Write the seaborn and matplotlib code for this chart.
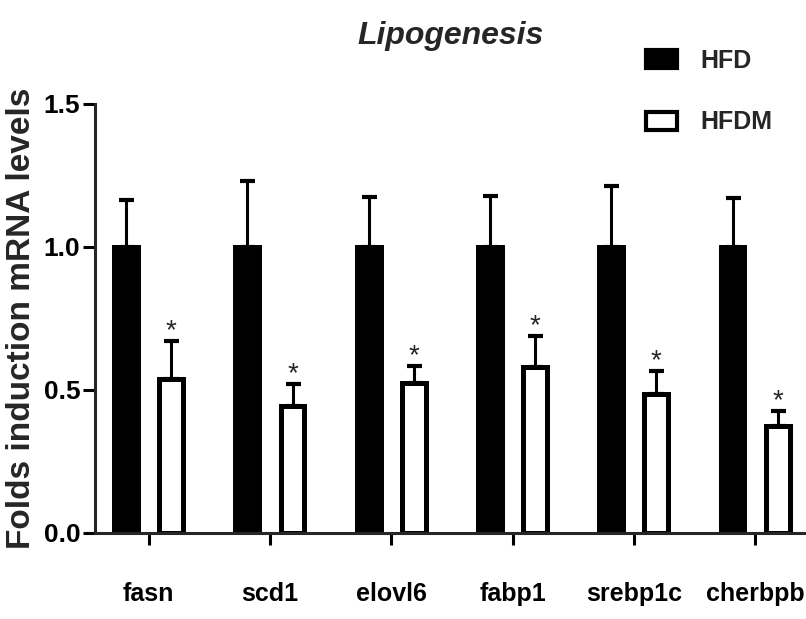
import matplotlib
matplotlib.use('Agg')
import matplotlib.pyplot as plt
import seaborn as sns
import numpy as np
import pandas as pd
from matplotlib.patches import Patch

# data
genes = ['fasn', 'scd1', 'elovl6', 'fabp1', 'srebp1c', 'cherbpb']
groups = ['HFD', 'HFDM']
hfd_mean = [1.0, 1.0, 1.0, 1.0, 1.0, 1.0]
hfd_err = [0.165, 0.23, 0.175, 0.18, 0.213, 0.17]
hfdm_mean = [0.54, 0.445, 0.525, 0.58, 0.485, 0.375]
hfdm_err = [0.13, 0.075, 0.06, 0.11, 0.08, 0.05]
hfdm_signif = ['*', '*', '*', '*', '*', '*']
y_ticks = [0.0, 0.5, 1.0, 1.5]

sns.set_style('ticks')
plt.rcParams['font.family'] = ['Liberation Sans', 'DejaVu Sans']
plt.rcParams['font.weight'] = 'bold'

df = pd.DataFrame({
    'gene': genes * 2,
    'group': ['HFD'] * len(genes) + ['HFDM'] * len(genes),
    'value': hfd_mean + hfdm_mean,
})

fig = plt.figure(figsize=(8.06, 6.19), dpi=100)
ax = fig.add_axes([0.118, 0.139, 0.882, 0.693])

sns.barplot(data=df, x='gene', y='value', hue='group', order=genes, hue_order=groups,
            palette={'HFD': 'black', 'HFDM': 'white'}, edgecolor='black', linewidth=3.6,
            width=0.744, gap=0.47, errorbar=None, legend=False, ax=ax)

# upper-only error bars and significance stars
for cont, means, errs in zip(ax.containers, [hfd_mean, hfdm_mean], [hfd_err, hfdm_err]):
    xs = [b.get_x() + b.get_width() / 2 for b in cont]
    ax.errorbar(xs, means, yerr=[np.zeros(len(errs)), errs], fmt='none', ecolor='black',
                elinewidth=2.2, capsize=5.4, capthick=3.0, zorder=0.5)
xs_m = [b.get_x() + b.get_width() / 2 for b in ax.containers[1]]
for x, m, e, s in zip(xs_m, hfdm_mean, hfdm_err, hfdm_signif):
    ax.text(x, m + e + 0.01, s, ha='center', va='baseline', fontsize=20,
            fontweight='normal')

ax.set_xlim(-0.442, 5.42)
ax.set_ylim(0, 1.5)
ax.set_yticks(y_ticks)
ax.set_yticklabels([f'{t:.1f}' for t in y_ticks], fontsize=19, fontweight='bold')
ax.set_xticks(range(len(genes)))
ax.set_xticklabels(genes, fontsize=18, fontweight='bold')
sns.despine(ax=ax)
for sp in ['left', 'bottom']:
    ax.spines[sp].set_linewidth(2.2)
ax.tick_params(axis='x', length=8.6, width=2.2, pad=27, colors='black')
ax.tick_params(axis='y', length=8.6, width=2.2, pad=2, colors='black')

ax.set_xlabel('')
ax.set_ylabel('Folds induction mRNA levels', fontsize=24, fontweight='bold', labelpad=5)
ax.set_title('Lipogenesis', fontstyle='italic', fontweight='bold', fontsize=23, pad=43)

handles = [Patch(facecolor='black', edgecolor='black', linewidth=3.0, label='HFD'),
           Patch(facecolor='white', edgecolor='black', linewidth=3.0, label='HFDM')]
fig.legend(handles=handles, loc='upper left', bbox_to_anchor=(0.8015, 0.921), frameon=False,
           borderpad=0, borderaxespad=0, handlelength=1.23, handleheight=0.75,
           handletextpad=0.95, labelspacing=1.5,
           prop={'weight': 'bold', 'size': 18})

fig.savefig('out.png', dpi=100)
